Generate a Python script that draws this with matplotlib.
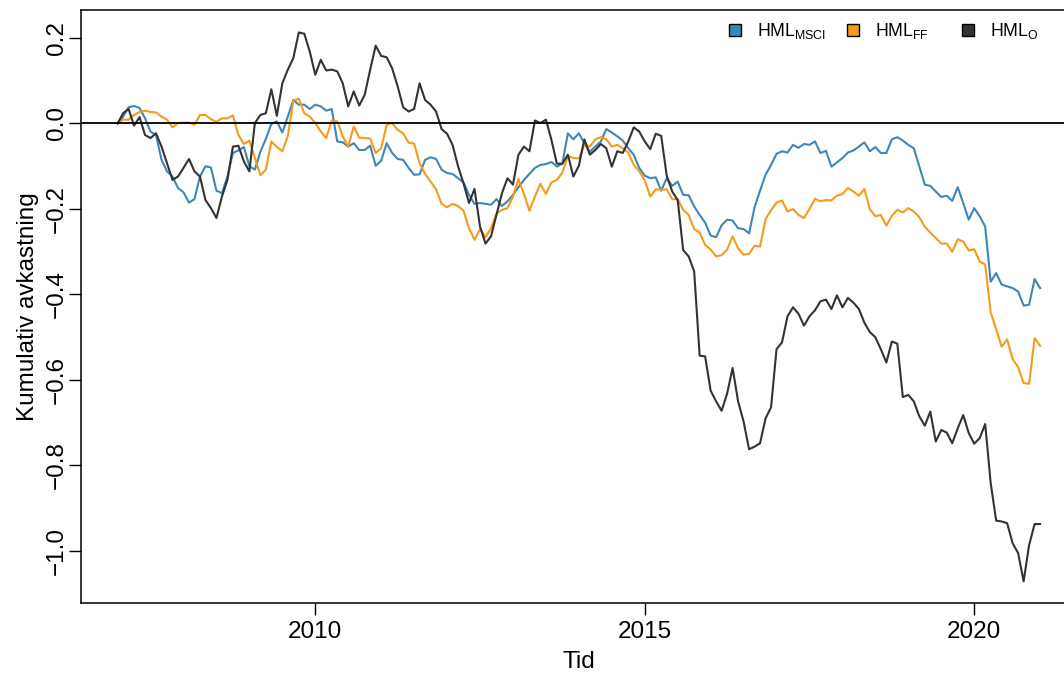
import numpy as np
import matplotlib
matplotlib.use('Agg')
import matplotlib.pyplot as plt
from matplotlib.patches import Patch
from matplotlib.legend import Legend

plt.rcParams['font.family'] = ['Liberation Sans', 'DejaVu Sans']
plt.rcParams['mathtext.fontset'] = 'custom'
plt.rcParams['mathtext.rm'] = 'Liberation Sans'

# Monthly cumulative returns, Jan 2007 - Jan 2021
START_YEAR = 2007
hml_msci = [
    0.0, 0.016, 0.038, 0.041, 0.036, 0.012, -0.019, -0.027, -0.085, -0.112,
    -0.124, -0.151, -0.161, -0.185, -0.177, -0.124, -0.100, -0.103, -0.157, -0.163,
    -0.124, -0.069, -0.063, -0.055, -0.100, -0.108, -0.066, -0.036, -0.001, 0.005,
    -0.021, 0.016, 0.055, 0.044, 0.044, 0.034, 0.044, 0.040, 0.030, 0.034,
    -0.042, -0.044, -0.054, -0.046, -0.062, -0.062, -0.052, -0.099, -0.087, -0.046,
    -0.069, -0.083, -0.085, -0.104, -0.120, -0.119, -0.085, -0.079, -0.083, -0.108,
    -0.116, -0.118, -0.128, -0.138, -0.167, -0.188, -0.186, -0.188, -0.190, -0.177,
    -0.193, -0.182, -0.167, -0.149, -0.132, -0.118, -0.104, -0.097, -0.095, -0.090,
    -0.101, -0.094, -0.023, -0.037, -0.023, -0.046, -0.066, -0.054, -0.042, -0.013,
    -0.021, -0.030, -0.040, -0.058, -0.073, -0.104, -0.122, -0.128, -0.126, -0.157,
    -0.128, -0.146, -0.136, -0.167, -0.168, -0.194, -0.214, -0.232, -0.262, -0.266,
    -0.238, -0.225, -0.227, -0.245, -0.247, -0.257, -0.196, -0.157, -0.120, -0.097,
    -0.071, -0.065, -0.068, -0.050, -0.057, -0.048, -0.050, -0.042, -0.069, -0.064,
    -0.101, -0.091, -0.081, -0.068, -0.063, -0.054, -0.044, -0.065, -0.055, -0.069,
    -0.069, -0.037, -0.032, -0.040, -0.050, -0.058, -0.100, -0.143, -0.146, -0.159,
    -0.172, -0.169, -0.181, -0.149, -0.186, -0.225, -0.198, -0.217, -0.241, -0.370,
    -0.350, -0.377, -0.381, -0.385, -0.393, -0.426, -0.424, -0.364, -0.385,
]
hml_ff = [
    0.0, 0.009, 0.009, 0.020, 0.027, 0.030, 0.027, 0.026, 0.016, 0.009,
    -0.009, 0.001, 0.002, 0.002, -0.003, 0.020, 0.020, 0.010, 0.004, 0.012,
    0.012, 0.019, -0.027, -0.048, -0.040, -0.081, -0.121, -0.108, -0.042, -0.055,
    -0.065, -0.029, 0.053, 0.058, 0.024, 0.016, 0.001, -0.019, -0.034, 0.007,
    0.005, -0.030, -0.054, -0.007, -0.033, -0.034, -0.035, -0.069, -0.058, -0.003,
    0.001, -0.015, -0.023, -0.045, -0.047, -0.093, -0.118, -0.136, -0.154, -0.188,
    -0.196, -0.188, -0.193, -0.204, -0.245, -0.272, -0.247, -0.266, -0.245, -0.211,
    -0.202, -0.198, -0.171, -0.130, -0.165, -0.204, -0.171, -0.141, -0.165, -0.138,
    -0.132, -0.115, -0.076, -0.081, -0.082, -0.050, -0.054, -0.037, -0.032, -0.037,
    -0.054, -0.050, -0.058, -0.068, -0.097, -0.112, -0.133, -0.171, -0.154, -0.155,
    -0.154, -0.177, -0.177, -0.202, -0.214, -0.247, -0.255, -0.284, -0.295, -0.311,
    -0.308, -0.295, -0.264, -0.292, -0.307, -0.305, -0.286, -0.288, -0.224, -0.203,
    -0.185, -0.180, -0.206, -0.200, -0.214, -0.221, -0.200, -0.176, -0.182, -0.179,
    -0.180, -0.169, -0.165, -0.151, -0.159, -0.169, -0.153, -0.201, -0.217, -0.214,
    -0.239, -0.216, -0.202, -0.208, -0.198, -0.206, -0.219, -0.242, -0.255, -0.268,
    -0.281, -0.281, -0.300, -0.271, -0.276, -0.297, -0.294, -0.323, -0.330, -0.442,
    -0.481, -0.522, -0.505, -0.551, -0.570, -0.607, -0.609, -0.502, -0.520,
]
hml_o = [
    0.0, 0.024, 0.034, -0.005, 0.015, -0.027, -0.034, -0.023, -0.054, -0.093,
    -0.132, -0.124, -0.104, -0.083, -0.112, -0.124, -0.179, -0.198, -0.221, -0.171,
    -0.132, -0.054, -0.052, -0.089, -0.112, 0.001, 0.020, 0.024, 0.080, 0.018,
    0.094, 0.126, 0.153, 0.213, 0.210, 0.168, 0.114, 0.149, 0.124, 0.126,
    0.122, 0.094, 0.040, 0.075, 0.042, 0.067, 0.126, 0.182, 0.158, 0.155,
    0.129, 0.087, 0.038, 0.028, 0.034, 0.094, 0.055, 0.044, 0.028, -0.013,
    -0.024, -0.050, -0.100, -0.140, -0.186, -0.153, -0.241, -0.281, -0.264, -0.214,
    -0.163, -0.128, -0.143, -0.073, -0.054, -0.065, 0.007, 0.001, 0.009, -0.038,
    -0.094, -0.094, -0.073, -0.124, -0.099, -0.037, -0.073, -0.062, -0.048, -0.058,
    -0.101, -0.065, -0.069, -0.042, -0.009, -0.019, -0.042, -0.060, -0.024, -0.029,
    -0.122, -0.159, -0.179, -0.296, -0.311, -0.346, -0.543, -0.545, -0.625, -0.650,
    -0.672, -0.632, -0.572, -0.650, -0.697, -0.762, -0.756, -0.748, -0.690, -0.664,
    -0.528, -0.512, -0.451, -0.430, -0.445, -0.473, -0.451, -0.437, -0.416, -0.412,
    -0.434, -0.402, -0.430, -0.408, -0.419, -0.434, -0.466, -0.488, -0.500, -0.528,
    -0.559, -0.510, -0.515, -0.640, -0.635, -0.650, -0.685, -0.707, -0.674, -0.744,
    -0.717, -0.723, -0.748, -0.713, -0.682, -0.724, -0.749, -0.736, -0.703, -0.841,
    -0.929, -0.931, -0.935, -0.982, -1.005, -1.071, -0.986, -0.937, -0.937,
]
series_labels = [r'HML$_{\mathrm{MSCI}}$', r'HML$_{\mathrm{FF}}$', r'HML$_{\mathrm{O}}$']
colors = ['#3E87B4', '#F59B1C', '#333333']
x_ticks = [2010, 2015, 2020]
y_ticks = [-1.0, -0.8, -0.6, -0.4, -0.2, 0.0, 0.2]

t = START_YEAR + np.arange(len(hml_msci)) / 12.0

W, H = 1064, 673
AX_L, AX_R, AX_T, AX_B = 80.7, 1077.0, 10.0, 603.3
fig = plt.figure(figsize=(W / 100, H / 100), dpi=100)
ax = fig.add_axes([AX_L / W, (H - AX_B) / H, (AX_R - AX_L) / W, (AX_B - AX_T) / H])

for values, color in zip([hml_msci, hml_ff, hml_o], colors):
    ax.plot(t, values, color=color, linewidth=1.5, solid_joinstyle='round')

ax.axhline(0, color='black', linewidth=1.3)

ax.set_xlim(2006.44, 2021.56)
ax.set_ylim(-1.1224, 0.2655)
ax.set_xticks(x_ticks)
ax.set_xticklabels([str(x) for x in x_ticks])
ax.set_yticks(y_ticks)
ax.set_yticklabels([f'{y:.1f}'.replace('-', '\u2212') for y in y_ticks])

ax.tick_params(axis='both', direction='out', length=8.5, width=1.0, labelsize=17.5)
ax.tick_params(axis='x', pad=4)
ax.tick_params(axis='y', pad=1, labelrotation=90)
for lab in ax.get_yticklabels():
    lab.set_va('center')

for sp in ax.spines.values():
    sp.set_linewidth(1.1)

ax.set_xlabel('Tid', fontsize=17.5, labelpad=6)
ax.set_ylabel('Kumulativ avkastning', fontsize=17.5, labelpad=5)

# R-style horizontal legend: one equal-width slot per entry
legend_left_px = [729, 847, 962]
legend_top_px = 21
for c, lab, px in zip(colors, series_labels, legend_left_px):
    leg = Legend(ax, [Patch(facecolor=c, edgecolor='black', linewidth=1.0)], [lab],
                 loc='upper left',
                 bbox_to_anchor=((px - AX_L) / (AX_R - AX_L), (AX_B - legend_top_px) / (AX_B - AX_T)),
                 frameon=False, fontsize=12.7, handlelength=0.7, handleheight=0.7,
                 handletextpad=0.9, borderpad=0, borderaxespad=0)
    ax.add_artist(leg)

fig.savefig('out.png', dpi=100)
